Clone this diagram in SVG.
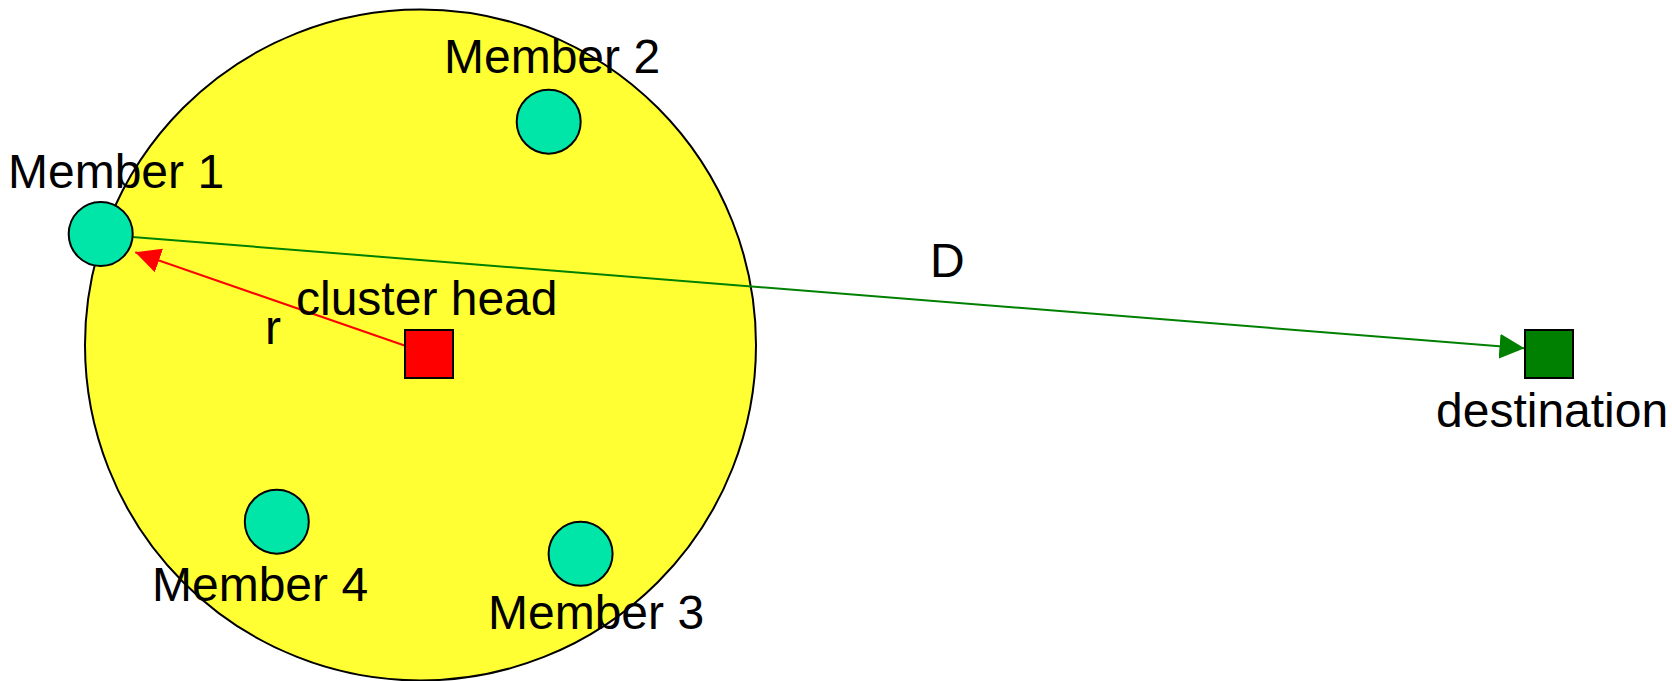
<svg xmlns="http://www.w3.org/2000/svg" width="1672" height="681" viewBox="0 0 1672 681">
<defs>
<style>
.lbl{font-family:"Liberation Sans",Arial,sans-serif;font-size:48px;fill:#000}
.mem{fill:#00E6A8;stroke:#000;stroke-width:2}
</style>
<marker id="ar" markerUnits="userSpaceOnUse" markerWidth="26" markerHeight="26" refX="25" refY="12.5" orient="auto" viewBox="0 0 26 26">
<path d="M0,0 L25,12.5 L0,25 Z" fill="#FF0000"/>
</marker>
<marker id="ag" markerUnits="userSpaceOnUse" markerWidth="26" markerHeight="26" refX="25" refY="12.5" orient="auto" viewBox="0 0 26 26">
<path d="M0,0 L25,12.5 L0,25 Z" fill="#008000"/>
</marker>
</defs>
<rect width="1672" height="681" fill="#fff"/>
<g id="cluster">
<circle cx="420.5" cy="345" r="335.5" fill="#FFFF33" stroke="#000" stroke-width="2"/>
</g>
<g id="connectors">
<line x1="100.7" y1="234.4" x2="1524.5" y2="348.3" stroke="#008000" stroke-width="2" marker-end="url(#ag)"/>
<line x1="429" y1="354" x2="135.3" y2="252.3" stroke="#FF0000" stroke-width="2" marker-end="url(#ar)"/>
</g>
<g id="member1">
<circle class="mem" cx="100.7" cy="234" r="32"/>
<text class="lbl" x="8" y="188.3">Member 1</text>
</g>
<g id="member2">
<circle class="mem" cx="548.7" cy="121.7" r="32"/>
<text class="lbl" x="444" y="72.7">Member 2</text>
</g>
<g id="member3">
<circle class="mem" cx="580.6" cy="553.8" r="32"/>
<text class="lbl" x="488" y="629.3">Member 3</text>
</g>
<g id="member4">
<circle class="mem" cx="276.8" cy="521.7" r="32"/>
<text class="lbl" x="152" y="600.7">Member 4</text>
</g>
<g id="clusterhead">
<rect x="405" y="330" width="48" height="48" fill="#FF0000" stroke="#000" stroke-width="2"/>
<text class="lbl" x="296" y="315">cluster head</text>
</g>
<g id="destination">
<rect x="1525" y="330" width="48" height="48" fill="#008000" stroke="#000" stroke-width="2"/>
<text class="lbl" x="1436" y="427.3">destination</text>
</g>
<text class="lbl" x="265" y="344.3">r</text>
<text class="lbl" x="930" y="277.3">D</text>
</svg>
